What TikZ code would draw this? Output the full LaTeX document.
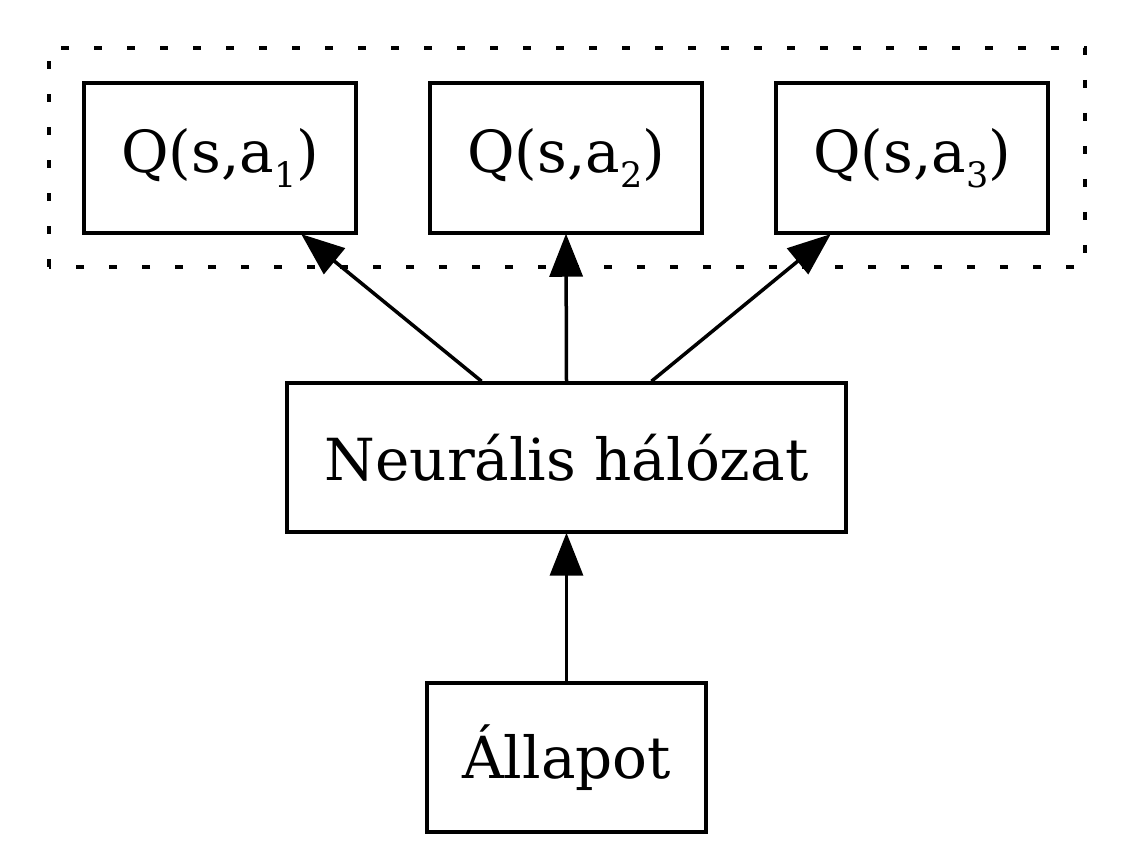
\documentclass[tikz,border=0pt]{standalone}
\usepackage{fontspec}
\setmainfont{DejaVu Serif}
\usetikzlibrary{calc,arrows.meta}
\newcommand{\qsub}[1]{\raisebox{-15pt}{\fontsize{35}{37}\selectfont #1}}
\tikzset{
  box/.style={draw, line width=3.5pt, inner sep=0pt, font=\fontsize{58}{68}\selectfont},
  qbox/.style={box, minimum width=272pt, minimum height=150pt},
  arr/.style={line width=3.5pt, -{Triangle[length=43pt, width=33pt]}, shorten >=-1pt},
  cluster/.style={line width=3.5pt, dash pattern=on 8pt off 25pt}
}
\begin{document}
\begin{tikzpicture}[x=1pt, y=1pt]
\useasboundingbox (0,0) rectangle (1133,850);
\draw[cluster] (49,583) rectangle (1085,802);
\node[qbox] (q1) at (220,692) {Q(s,a\qsub{1})};
\node[qbox] (q2) at (566,692) {Q(s,a\qsub{2})};
\node[qbox] (q3) at (912,692) {Q(s,a\qsub{3})};
\node[box, minimum width=559pt, minimum height=149pt] (nn) at (566.5,392.5) {Neurális hálózat};
\node[box, minimum width=279pt, minimum height=149pt] (st) at (566.5,92.5) {Állapot};
\draw[arr] (st.north) -- (nn.south);
\draw[arr] ($(nn.north)+(-85,0)$) -- ($(q1.south)+(82,0)$);
\draw[arr] (nn.north) -- (q2.south);
\draw[arr] ($(nn.north)+(85,0)$) -- ($(q3.south)+(-82,0)$);
\end{tikzpicture}
\end{document}
